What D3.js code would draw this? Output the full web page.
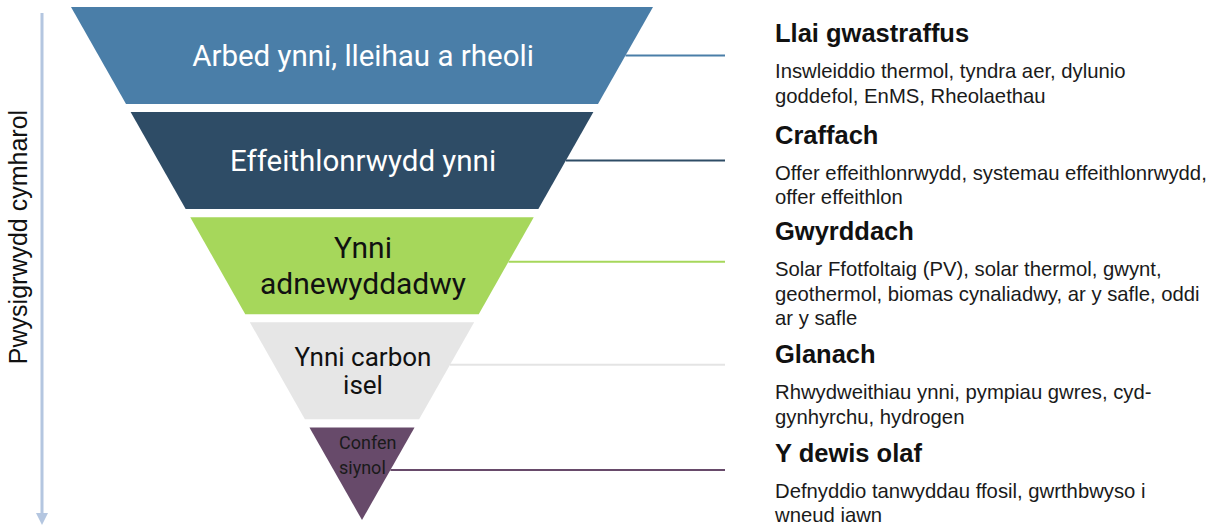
<!DOCTYPE html>
<meta charset="utf-8">
<style>
    body { margin: 0; background: #fff; }
    .side text { font-family: "Liberation Sans", Arial, sans-serif; }
    .layer-label { font-family: Roboto, sans-serif; }
</style>
<svg width="1214" height="526"></svg>
<script src="https://d3js.org/d3.v7.min.js"></script>
<script>

    // layers of the inverted pyramid, top to bottom
    var layers = ["Arbed ynni, lleihau a rheoli", "Effeithlonrwydd ynni", "Ynni adnewyddadwy", "Ynni carbon isel", "Confensiynol"];
    var layerLines = [
        ["Arbed ynni, lleihau a rheoli"],
        ["Effeithlonrwydd ynni"],
        ["Ynni", "adnewyddadwy"],
        ["Ynni carbon", "isel"],
        ["Confen", "siynol"]
    ];
    var headings = ["Llai gwastraffus", "Craffach", "Gwyrddach", "Glanach", "Y dewis olaf"];
    var descriptions = [
        ["Inswleiddio thermol, tyndra aer, dylunio", "goddefol, EnMS, Rheolaethau"],
        ["Offer effeithlonrwydd, systemau effeithlonrwydd,", "offer effeithlon"],
        ["Solar Ffotfoltaig (PV), solar thermol, gwynt,", "geothermol, biomas cynaliadwy, ar y safle, oddi", "ar y safle"],
        ["Rhwydweithiau ynni, pympiau gwres, cyd-", "gynhyrchu, hydrogen"],
        ["Defnyddio tanwyddau ffosil, gwrthbwyso i", "wneud iawn"]
    ];
    var axisLabel = "Pwysigrwydd cymharol";

    var colors = ["#4a7ea8", "#2e4c66", "#a6d75b", "#e6e6e6", "#674a6a"];
    var lineColors = ["#4a7ea8", "#2e4c66", "#a6d75b", "#e4e4e4", "#674a6a"];
    var labelColors = ["#ffffff", "#ffffff", "#111111", "#111111", "#1a1a1a"];
    var labelSizes = [29.5, 29.5, 30, 26, 18];

    var svg = d3.select("svg");

    var cx = 362, topY = 7, apexY = 520;

    var y = d3.scaleBand()
        .domain(layers)
        .range([topY, 524.4])
        .paddingInner(0.077)
        .paddingOuter(0);

    // half width of the pyramid at a given y
    var halfW = d3.scaleLinear().domain([topY, apexY]).range([291, 0]);

    var g = svg.append("g");

    layers.forEach(function(name, i) {
        var t = y(name);
        var b = Math.min(t + y.bandwidth(), apexY);
        var pts = [
            [cx - halfW(t), t],
            [cx + halfW(t), t],
            [cx + halfW(b), b],
            [cx - halfW(b), b]
        ];
        g.append("path")
            .attr("d", d3.line()(pts) + "Z")
            .attr("fill", colors[i]);
    });

    // connector lines
    layers.forEach(function(name, i) {
        var ly = y(name) + y.bandwidth() / 2 - 2 * i + (i === 1 ? 2 : 0) + (i === 4 ? 2 : 0);
        g.append("line")
            .attr("x1", cx + halfW(ly))
            .attr("x2", 725)
            .attr("y1", ly)
            .attr("y2", ly)
            .attr("stroke", lineColors[i])
            .attr("stroke-width", 2);
    });

    // labels inside layers
    layers.forEach(function(name, i) {
        var lines = layerLines[i];
        var fs = labelSizes[i];
        var lh = i === 2 ? 36 : (i === 4 ? 25 : 28);
        var mid = y(name) + y.bandwidth() / 2;
        var start = mid - (lines.length - 1) * lh / 2;
        var anchor = "middle", tx = cx + 1;
        if (i === 4) {
            start = y(name) + 15;
            anchor = "start";
            tx = 339;
        }
        var txt = g.append("text")
            .attr("class", "layer-label")
            .attr("text-anchor", anchor)
            .attr("font-size", fs)
            .attr("fill", labelColors[i]);
        lines.forEach(function(l, k) {
            txt.append("tspan")
                .attr("x", tx)
                .attr("y", start + k * lh)
                .attr("dy", "0.35em")
                .text(l);
        });
    });

    // right-hand text blocks
    var side = svg.append("g").attr("class", "side");
    var ty = 42;
    headings.forEach(function(h, i) {
        if (i === 1) ty += 3;
        side.append("text")
            .attr("x", 775)
            .attr("y", ty)
            .attr("font-size", 25.5)
            .attr("font-weight", "bold")
            .attr("fill", "#111")
            .text(h);
        ty += 36;
        descriptions[i].forEach(function(l, k) {
            side.append("text")
                .attr("x", 775)
                .attr("y", ty)
                .attr("font-size", 20.3)
                .attr("fill", "#1a1a1a")
                .text(l);
            ty += 24.5;
        });
        ty += 38 - 24.5 - (i === 1 ? 2 : 0);
    });

    // left axis arrow
    var ax = svg.append("g");
    ax.append("line")
        .attr("x1", 42).attr("x2", 42)
        .attr("y1", 13).attr("y2", 514)
        .attr("stroke", "#b4c6e0")
        .attr("stroke-width", 3);
    ax.append("path")
        .attr("d", d3.line()([[36, 513], [48, 513], [42, 525]]) + "Z")
        .attr("fill", "#b4c6e0");
    ax.append("text")
        .attr("transform", "translate(27,237) rotate(-90)")
        .attr("text-anchor", "middle")
        .attr("font-family", "'Liberation Sans', Arial, sans-serif")
        .attr("font-size", 25)
        .attr("fill", "#111")
        .text(axisLabel);

</script>
